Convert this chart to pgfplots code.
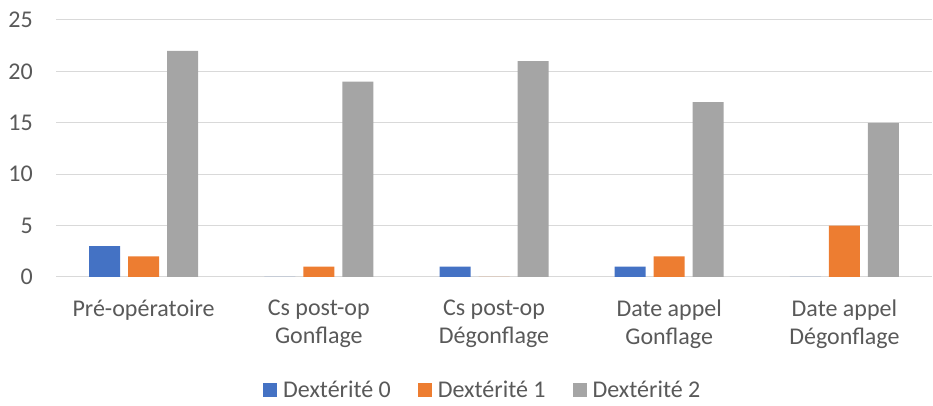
\documentclass[border=0pt]{standalone}
\usepackage{fontspec}
\setmainfont{Carlito}
\usepackage{pgfplots}
\pgfplotsset{compat=1.18}
\definecolor{cA}{HTML}{4472C4}
\definecolor{cB}{HTML}{ED7D31}
\definecolor{cC}{HTML}{A5A5A5}
\definecolor{gridc}{HTML}{D9D9D9}
\definecolor{txt}{HTML}{595959}
\begin{document}
\begin{tikzpicture}[x=1pt,y=1pt]
\path[use as bounding box] (0,0) rectangle (933,406);
\begin{axis}[
  at={(56pt,129pt)}, anchor=south west,
  scale only axis, width=876pt, height=257pt,
  xmin=-0.5, xmax=4.5, ymin=0, ymax=25,
  ytick={0,5,10,15,20,25}, xtick={0,1,2,3,4},
  /pgf/number format/assume math mode=true,
  xticklabels={Pré-opératoire,{Cs post-op\\Gonflage},{Cs post-op\\Dégonflage},{Date appel\\Gonflage},{Date appel\\Dégonflage}},
  axis line style={draw=none}, major tick length=0pt,
  ymajorgrids, grid style={color=gridc, line width=1pt},
  ybar=8pt, bar width=31pt,
  tick label style={font=\fontsize{24}{27.5}\selectfont, text=txt},
  yticklabel style={anchor=east, inner sep=0pt, xshift=-23pt},
  xticklabel style={align=center, anchor=north, inner sep=0pt, yshift=-23pt},
  legend style={draw=none, at={(0.486,-0.44)}, anchor=center, legend columns=3,
    font=\fontsize{24}{27.5}\selectfont, text=txt,
    /tikz/every even column/.append style={column sep=27pt},
    /tikz/every odd column/.append style={column sep=6pt},
    nodes={inner sep=0pt}},
  legend image code/.code={\fill[#1] (0pt,-7pt) rectangle (14pt,7pt);},
]
\addplot[draw=none, fill=cA] coordinates {(0,3) (1,0) (2,1) (3,1) (4,0)};
\addplot[draw=none, fill=cB] coordinates {(0,2) (1,1) (2,0) (3,2) (4,5)};
\addplot[draw=none, fill=cC] coordinates {(0,22) (1,19) (2,21) (3,17) (4,15)};
\legend{Dextérité 0, Dextérité 1, Dextérité 2}
\end{axis}
\end{tikzpicture}
\end{document}
